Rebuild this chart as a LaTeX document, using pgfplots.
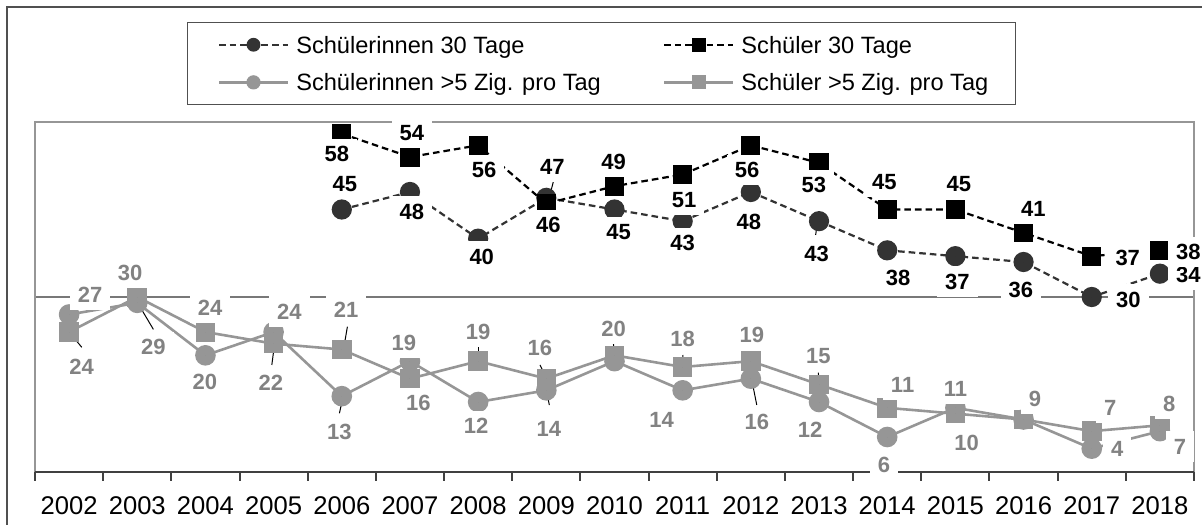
\documentclass[border=0pt]{standalone}
\usepackage{fontspec}
\setmainfont{Liberation Sans}
\usepackage{pgfplots}
\usepackage{pgfplotstable}
\pgfplotsset{compat=1.18}

\definecolor{cdark}{RGB}{51,51,51}
\definecolor{clight}{RGB}{150,150,150}
\definecolor{clab}{RGB}{130,130,130}
\definecolor{cframe}{RGB}{150,150,150}
\definecolor{cgrid}{RGB}{120,120,120}
\definecolor{caxis}{RGB}{64,64,64}
\definecolor{couter}{RGB}{80,80,80}

% data
\pgfplotstableread{
x y
4 45
5 48
6 40
7 47
8 45
9 43
10 48
11 43
12 38
13 37
14 36
15 30
16 34
}\dA
\pgfplotstableread{
x y
4 58
5 54
6 56
7 46
8 49
9 51
10 56
11 53
12 45
13 45
14 41
15 37
16 38
}\dB
\pgfplotstableread{
x y
0 27
1 29
2 20
3 24
4 13
5 19
6 12
7 14
8 19
9 14
10 16
11 12
12 6
13 11
14 9
15 4
16 7
}\dC
\pgfplotstableread{
x y
0 24
1 30
2 24
3 22
4 21
5 16
6 19
7 16
8 20
9 18
10 19
11 15
12 11
13 10
14 9
15 7
16 8
}\dD

% labels
\pgfplotstableread{
x y lab dx dy
4 45 45 1.5 12.75
5 48 48 0.9 -9.8
6 40 40 1.8 -9
7 47 47 3 15.5
8 45 45 2 -11.1
9 43 43 0 -11
10 48 48 -1 -14.8
11 43 43 -1.2 -16.4
12 38 38 5.5 -13.5
13 37 37 1 -12.7
14 36 36 -1.4 -14
15 30 30 18.3 -1.2
16 34 34 14.2 -0.6
}\lA
\pgfplotstableread{
x y lab dx dy
4 58 58 -2.5 -10.3
5 54 54 0.9 12.2
6 56 56 3 -12.3
7 46 46 1 -10.7
8 49 49 -0.5 12.25
9 51 51 0.7 -12.75
10 56 56 -1.9 -12.35
11 53 53 -2.6 -11.1
12 45 45 -1.4 13.9
13 45 45 1.7 13.1
14 41 41 4.9 12.2
15 37 37 18 -0.7
16 38 38 14.2 -0.7
}\lB
\pgfplotstableread{
x y lab dx dy
0 27 27 10.5 10
1 29 29 8 -22.2
2 20 20 -0.3 -13.2
3 24 24 7.9 10.2
4 13 13 -1.2 -17.7
5 19 19 -3 9
6 12 12 -1 -12
7 14 14 1.3 -19.3
9 14 14 -10.5 -14.5
10 16 16 3 -21.5
11 12 12 -4.5 -14
12 6 6 -1.6 -14
13 11 11 0 9.7
15 4 4 12.8 0
16 7 7 10 -7.7
}\lC
\pgfplotstableread{
x y lab dx dy
0 24 24 6.3 -17.3
1 30 30 -3.6 12.2
2 24 24 2.3 12.3
3 22 22 -1.4 -19.8
4 21 21 2.2 19.8
5 16 16 4.2 -12.3
6 19 19 0 14.8
7 16 16 -3.2 15.2
8 20 20 -0.5 13.5
9 18 18 0 14.3
10 19 19 0.5 13.1
11 15 15 -0.35 14.3
12 11 11 7.7 11.4
13 10 10 5.6 -14.8
14 9 9 5.7 10.6
15 7 7 9.2 11.7
16 8 8 4.7 11
}\lD

\pgfplotsset{
  lbl/.style={forget plot, only marks, mark=*, mark size=0pt,
    mark options={draw=none,fill=none},
    nodes near coords, point meta=explicit symbolic,
    nodes near coords align={center},
    visualization depends on={\thisrow{dx}\as\ldx},
    visualization depends on={\thisrow{dy}\as\ldy},
    every node near coord/.append style={anchor=center,
      xshift=\ldx*1bp, yshift=\ldy*1bp, fill=white,
      inner xsep=4bp, inner ysep=2.25bp,
      text height=9.2bp, text depth=1.5bp,
      font=\bfseries\fontsize{11bp}{12bp}\selectfont, text=#1}},
}

\newcommand{\leader}[6]{\draw[black, line width=0.5bp] ([shift={(#3bp,#4bp)}]axis cs:#1,#2) -- ([shift={(#5bp,#6bp)}]axis cs:#1,#2);}

\begin{document}
\begin{tikzpicture}
\begin{axis}[
  at={(0,0)}, anchor=south west, scale only axis,
  width=579.5bp, height=175bp,
  xmin=-0.5, xmax=16.5, ymin=0, ymax=60,
  clip=false,
  axis line style={draw=none},
  xtick={0,...,16},
  xticklabels={2002,2003,2004,2005,2006,2007,2008,2009,2010,2011,2012,2013,2014,2015,2016,2017,2018},
  minor xtick={-0.5,0.5,...,16.5},
  major tick length=0pt,
  minor tick length=4.5bp,
  tick align=outside,
  xtick pos=left,
  minor tick style={draw=caxis, line width=1bp},
  ytick={30}, yticklabels={},
  ymajorgrids, major grid style={draw=cgrid, line width=0.6bp},
  ytick style={draw=none},
  xticklabel style={font=\fontsize{12.8bp}{14bp}\selectfont, anchor=base, yshift=-21bp, text=black},
  legend columns=2,
  legend cell align=left,
  legend style={at={(axis description cs:0.13115,1.28571)}, anchor=north west,
    draw=couter, line width=0.7bp, fill=white,
    font=\fontsize{11.8bp}{13bp}\selectfont,
    inner xsep=11.5bp, inner ysep=4.8bp, row sep=6.35bp,
    nodes={inner sep=2bp, text height=8.45bp, text depth=0bp},
    /tikz/every even column/.append style={column sep=25.5bp},
    /tikz/every odd column/.append style={column sep=1.5bp}},
  legend image code/.code={\path (0bp,0bp); \draw[mark repeat=2, mark phase=2, #1] plot coordinates {(3.5bp,0bp) (20.75bp,0bp) (38bp,0bp)};},
  legend image post style={mark size=2.9bp},
]
\draw[cframe, line width=1.2bp] (rel axis cs:0,0) -- (rel axis cs:0,1) -- (rel axis cs:1,1) -- (rel axis cs:1,0);
\draw[caxis, line width=1bp] (rel axis cs:0,0) -- (rel axis cs:1,0);

\addplot[cdark, line width=1.1bp, dash pattern=on 3.3bp off 2bp, mark=*, mark size=4.5bp, mark options={solid, draw=none, fill=cdark}] table[x=x,y=y] {\dA};
\addlegendentry{Schülerinnen 30 Tage}
\addplot[black, line width=1.1bp, dash pattern=on 3.3bp off 2bp, mark=square*, mark size=4.25bp, mark options={solid, draw=none, fill=black}] table[x=x,y=y] {\dB};
\addlegendentry{Schüler 30 Tage}
\addplot[clight, line width=1.3bp, mark=*, mark size=4.5bp, mark options={solid, draw=none, fill=clight}] table[x=x,y=y] {\dC};
\addlegendentry{Schülerinnen >5 Zig. pro Tag}
\addplot[clight, line width=1.3bp, mark=square*, mark size=4.25bp, mark options={solid, draw=none, fill=clight}] table[x=x,y=y] {\dD};
\addlegendentry{Schüler >5 Zig. pro Tag}

\addplot[lbl=black] table[x=x,y=y,meta=lab] {\lA};
\addplot[lbl=black] table[x=x,y=y,meta=lab] {\lB};
\addplot[lbl=clab] table[x=x,y=y,meta=lab] {\lC};
\addplot[lbl=clab] table[x=x,y=y,meta=lab] {\lD};

\leader{0}{24}{0.5}{-0.65}{6.35}{-7.65}
\leader{1}{29}{0.55}{-0.6}{8.05}{-13.25}
\leader{3}{22}{0.4}{-0.65}{-0.9}{-10.65}
\leader{4}{21}{2.8}{11.4}{0.8}{-0.25}
\leader{4}{13}{0.5}{-1.05}{-1.2}{-8.55}
\leader{6}{19}{0.1}{6.95}{0.1}{-0.25}
\leader{7}{16}{-3.15}{6.85}{0.2}{0.2}
\leader{7}{14}{0.2}{-0.7}{1.5}{-7.35}
\leader{8}{20}{-0.55}{6}{0.3}{-3.2}
\leader{9}{18}{0.05}{6}{0.35}{0.15}
\leader{10}{16}{0.45}{-0.65}{2.95}{-13.15}
\leader{11}{15}{-0.35}{5.9}{0.15}{-0.25}
\leader{7}{47}{3.5}{8.05}{1.5}{0.25}
\leader{11}{43}{-0.7}{-0.25}{-1.7}{-6.9}
\end{axis}
\pgfresetboundingbox
\useasboundingbox (-17.5bp,-26.5bp) rectangle (583.5bp,236bp);
\draw[couter, line width=0.7bp] (-14bp,-30bp) -- (-14bp,232.5bp) -- (600bp,232.5bp);
\end{tikzpicture}
\end{document}
